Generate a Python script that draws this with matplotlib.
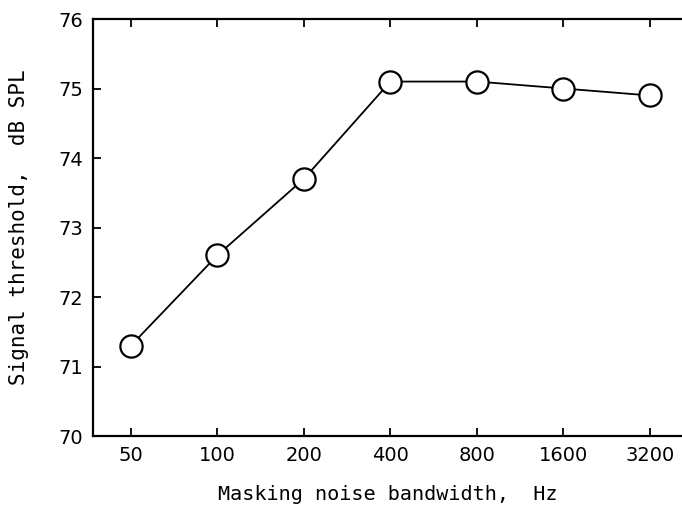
import matplotlib.pyplot as plt

# data
bandwidths = ['50', '100', '200', '400', '800', '1600', '3200']
threshold = [71.3, 72.6, 73.7, 75.1, 75.1, 75.0, 74.9]
yticks = [70, 71, 72, 73, 74, 75, 76]

plt.rcParams['font.family'] = 'DejaVu Sans Mono'

fig = plt.figure(figsize=(6.82, 5.07), dpi=100)
ax = fig.add_axes([0.136, 0.140, 0.864, 0.8225])

x = list(range(len(bandwidths)))
ax.plot(x, threshold, color='black', lw=1.3, marker='o', markersize=16,
        markerfacecolor='white', markeredgecolor='black', markeredgewidth=1.6)

ax.set_xlim(-0.44, 6.37)
ax.set_ylim(70, 76)
ax.set_xticks(x)
ax.set_xticklabels(bandwidths)
ax.set_yticks(yticks)

ax.tick_params(direction='in', length=6, width=1.3, labelsize=14, top=True, pad=7)
for lab in ax.get_xticklabels() + ax.get_yticklabels():
    lab.set_family('DejaVu Sans')
ax.spines['right'].set_visible(False)
for s in ['left', 'bottom', 'top']:
    ax.spines[s].set_linewidth(1.6)

ax.set_xlabel('Masking noise bandwidth,  Hz', fontsize=14.5)
ax.set_ylabel('Signal threshold,  dB SPL', fontsize=15)
ax.xaxis.set_label_coords(0.5, -0.118)
ax.yaxis.set_label_coords(-0.108, 0.5)

plt.savefig('out.png', dpi=100)
